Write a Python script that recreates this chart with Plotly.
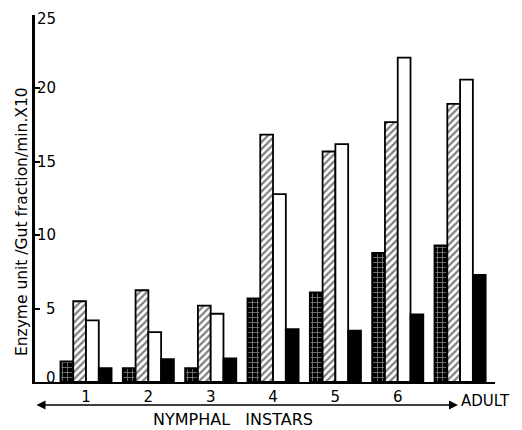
import plotly.graph_objects as go

categories = ["1", "2", "3", "4", "5", "6", "Adult"]
tick_labels = ["1", "2", "3", "4", "5", "6", ""]
dotted = [1.4, 0.95, 0.95, 5.7, 6.1, 8.8, 9.3]
hatched = [5.5, 6.25, 5.2, 16.85, 15.7, 17.7, 18.95]
white = [4.2, 3.4, 4.65, 12.8, 16.2, 22.1, 20.6]
black = [0.95, 1.55, 1.6, 3.6, 3.5, 4.6, 7.3]
y_ticks = [0, 5, 10, 15, 20, 25]

FONT = "DejaVu Sans"
x = list(range(len(categories)))

fig = go.Figure()
fig.add_bar(x=x, y=dotted, name="dotted",
            marker=dict(color="black", line=dict(color="black", width=1.8),
                        pattern=dict(shape="+", bgcolor="black", fgcolor="white",
                                     size=5, solidity=0.3)))
fig.add_bar(x=x, y=hatched, name="hatched",
            marker=dict(color="white", line=dict(color="black", width=1.8),
                        pattern=dict(shape="/", bgcolor="white", fgcolor="black",
                                     size=5, solidity=0.45)))
fig.add_bar(x=x, y=white, name="white",
            marker=dict(color="white", line=dict(color="black", width=1.8)))
fig.add_bar(x=x, y=black, name="black",
            marker=dict(color="black", line=dict(color="black", width=1.8)))

# page body has an 8px margin, so the figure is sized/offset to compensate
fig.update_layout(
    width=514, height=422,
    margin=dict(l=27, r=27, t=7, b=48, autoexpand=False),
    paper_bgcolor="white", plot_bgcolor="white",
    barmode="group", bargap=0.18, bargroupgap=0,
    showlegend=False,
    font=dict(family=FONT, size=14, color="black"),
)
fig.update_xaxes(
    range=[-0.818, 6.56], tickvals=x, ticktext=tick_labels,
    showline=True, linecolor="black", linewidth=2, showgrid=False,
    ticks="", zeroline=False, tickfont=dict(size=15), automargin=False,
)
fig.update_yaxes(
    range=[0, 25], tickvals=y_ticks, showticklabels=False,
    showline=True, linecolor="black", linewidth=3, showgrid=False,
    ticks="inside", ticklen=5, tickwidth=1.5, tickcolor="black",
    zeroline=False, automargin=False,
)

# y tick labels sit just inside the axis, right-aligned
for v in y_ticks:
    shift = -4 if v == max(y_ticks) else (4 if v == 0 else 0)
    fig.add_annotation(text=str(v), xref="paper", yref="y", x=0.05, y=v,
                       xanchor="right", yanchor="middle", yshift=shift,
                       showarrow=False, font=dict(size=15))

# y-axis title
fig.add_annotation(text="Enzyme unit /Gut fraction/min.X10", xref="paper", yref="paper",
                   x=-0.028, y=0.436, xanchor="center", yanchor="middle",
                   textangle=-90, showarrow=False, font=dict(size=15.5))
# double-headed arrow
fig.add_annotation(text="", xref="paper", yref="paper", x=0.9196, y=-0.0627,
                   ax=-423, ay=0, axref="pixel", ayref="pixel", showarrow=True,
                   arrowhead=2, startarrowhead=2, arrowside="end+start",
                   arrowsize=1.2, arrowwidth=1.5, arrowcolor="black")
fig.add_annotation(text="ADULT", xref="paper", yref="paper", x=0.98, y=-0.052,
                   xanchor="center", yanchor="middle", showarrow=False, font=dict(size=15))
fig.add_annotation(text="NYMPHAL   INSTARS", xref="paper", yref="paper", x=0.43, y=-0.1035,
                   xanchor="center", yanchor="middle", showarrow=False, font=dict(size=16))

fig.write_html("out.html")
